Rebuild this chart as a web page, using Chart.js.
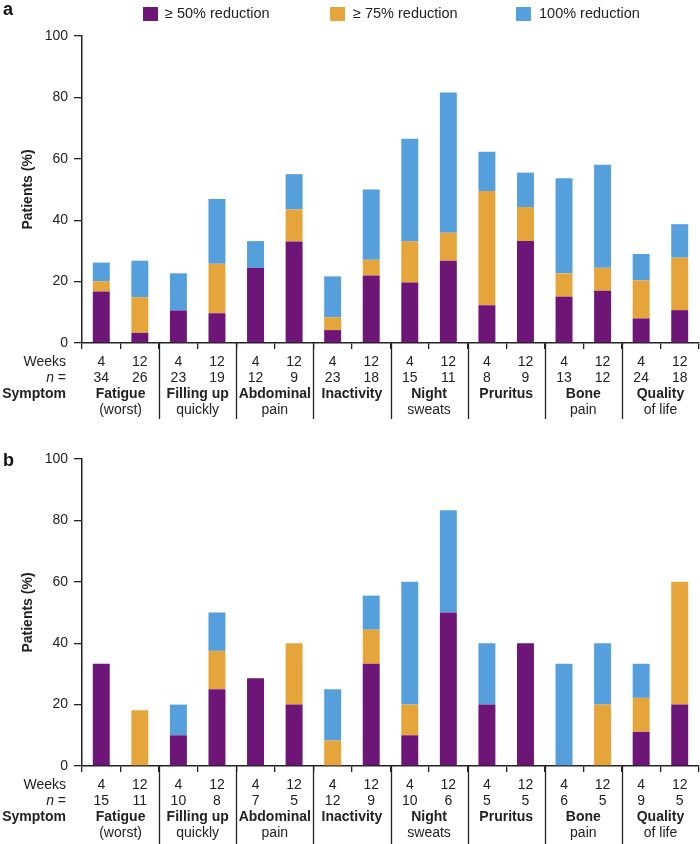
<!DOCTYPE html>
<html>
<head>
<meta charset="utf-8">
<script src="https://cdn.jsdelivr.net/npm/chart.js@4"></script>
<style>
  body { margin: 0; background: #fff; font-family: "Liberation Sans", Arial, sans-serif; }
  #page { position: relative; width: 700px; height: 844px; }
  .box { position: absolute; left: 0; width: 700px; height: 422px; }
  .panel { position: absolute; left: 3px; font-weight: bold; font-size: 18px; color: #111; }
  .sw { position: absolute; top: 7px; width: 15px; height: 14px; }
  .lt { position: absolute; top: 5px; font-size: 14.5px; color: #222; white-space: nowrap; }
</style>
</head>
<body>
<div id="page">
  <div class="box" style="top:0"><canvas id="chartA" width="700" height="422"></canvas></div>
  <div class="box" style="top:422px"><canvas id="chartB" width="700" height="422"></canvas></div>
  <div class="panel" style="top:-1px">a</div>
  <div class="panel" style="top:450px">b</div>
  <div class="sw" style="left:143px;background:#6e1678"></div><div class="lt" style="left:165px">≥ 50% reduction</div>
  <div class="sw" style="left:330px;background:#e5a53b"></div><div class="lt" style="left:353px">≥ 75% reduction</div>
  <div class="sw" style="left:516px;background:#559fdc"></div><div class="lt" style="left:539px">100% reduction</div>
</div>
<script>
// Shared labels
const weeks = ['4', '12', '4', '12', '4', '12', '4', '12', '4', '12', '4', '12', '4', '12', '4', '12'];
const symptoms = [
  ['Fatigue', '(worst)'], ['Filling up', 'quickly'], ['Abdominal', 'pain'], ['Inactivity'],
  ['Night', 'sweats'], ['Pruritus'], ['Bone', 'pain'], ['Quality', 'of life']
];
const seriesNames = ['≥ 50% reduction', '≥ 75% reduction', '100% reduction'];
const colors = ['#6e1678', '#e5a53b', '#559fdc'];

// Panel a (stacked increments, %)
const nA = ['34', '26', '23', '19', '12', '9', '23', '18', '15', '11', '8', '9', '13', '12', '24', '18'];
const a50 = [16.8, 3.3, 10.6, 9.7, 24.4, 33.1, 4.2, 22.0, 19.7, 26.8, 12.3, 33.2, 15.1, 17.0, 8.0, 10.7];
const a75 = [3.3, 11.6, 0, 16.1, 0, 10.4, 4.2, 5.1, 13.4, 9.1, 37.2, 11.1, 7.6, 7.5, 12.4, 17.1];
const a100 = [6.1, 11.9, 12.1, 21.1, 8.8, 11.5, 13.3, 22.9, 33.4, 45.7, 12.8, 11.2, 31.0, 33.6, 8.6, 10.9];

// Panel b (stacked increments, %)
const nB = ['15', '11', '10', '8', '7', '5', '12', '9', '10', '6', '5', '5', '6', '5', '9', '5'];
const b50 = [33.3, 0, 10, 25, 28.6, 20, 0, 33.3, 10, 50, 20, 40, 0, 0, 11.1, 20];
const b75 = [0, 18.2, 0, 12.5, 0, 20, 8.3, 11.1, 10, 0, 0, 0, 0, 20, 11.1, 40];
const b100 = [0, 0, 10, 12.5, 0, 0, 16.7, 11.1, 40, 33.3, 20, 0, 33.3, 20, 11.1, 0];

const FONT = '"Liberation Sans", Arial, sans-serif';
const INK = '#222';

// draws the Weeks / n = / Symptom table under the x axis
const tablePlugin = {
  id: 'tableRows',
  afterDraw(chart, args, opts) {
    const ctx = chart.ctx;
    const x = chart.scales.x;
    const base = chart.chartArea.bottom;
    const rowY = [base + 19, base + 35, base + 51, base + 67];
    ctx.save();
    ctx.fillStyle = INK;
    ctx.textBaseline = 'middle';

    // row headers
    ctx.textAlign = 'right';
    ctx.font = '14px ' + FONT;
    ctx.fillText('Weeks', 66, rowY[0]);
    ctx.fillText('=', 66, rowY[1]);
    const eqW = ctx.measureText(' =').width;
    ctx.font = 'italic 14px ' + FONT;
    ctx.fillText('n', 66 - eqW, rowY[1]);
    ctx.font = 'bold 14px ' + FONT;
    ctx.fillText('Symptom', 66, rowY[2]);

    // weeks and n
    ctx.textAlign = 'center';
    ctx.font = '14px ' + FONT;
    weeks.forEach((w, i) => {
      const px = x.getPixelForValue(i);
      ctx.fillText(w, px, rowY[0]);
      ctx.fillText(opts.n[i], px, rowY[1]);
    });

    // symptom names, centred on each pair
    symptoms.forEach((lines, k) => {
      const px = (x.getPixelForValue(2 * k) + x.getPixelForValue(2 * k + 1)) / 2;
      lines.forEach((t, j) => {
        ctx.font = (j === 0 ? 'bold ' : '') + '14px ' + FONT;
        ctx.fillText(t, px, rowY[2 + j]);
      });
    });

    // separators between symptoms
    ctx.strokeStyle = INK;
    ctx.lineWidth = 1.3;
    for (let k = 1; k < symptoms.length; k++) {
      const px = Math.round((x.getPixelForValue(2 * k - 1) + x.getPixelForValue(2 * k)) / 2) + 0.5;
      ctx.beginPath();
      ctx.moveTo(px, base);
      ctx.lineTo(px, base + opts.sepLen);
      ctx.stroke();
    }
    ctx.restore();
  }
};

function makeChart(id, s50, s75, s100, n, topPad, xHeight, sepLen) {
  const ctx = document.getElementById(id).getContext('2d');
  return new Chart(ctx, {
    type: 'bar',
    data: {
      labels: weeks,
      datasets: [s50, s75, s100].map((d, i) => ({
        label: seriesNames[i],
        data: d,
        backgroundColor: colors[i],
        borderWidth: 0,
        barPercentage: 0.44,
        categoryPercentage: 1
      }))
    },
    plugins: [tablePlugin],
    options: {
      responsive: false,
      animation: false,
      layout: { padding: { top: topPad, right: 1, bottom: 0, left: 0 } },
      plugins: {
        legend: { display: false },
        tooltip: { enabled: false },
        tableRows: { n: n, sepLen: sepLen }
      },
      scales: {
        x: {
          stacked: true,
          grid: { drawOnChartArea: false, tickLength: 6, color: INK, lineWidth: 1.3, offset: true },
          border: { color: INK, width: 1.5 },
          ticks: { display: false },
          afterFit: (scale) => { scale.height = xHeight; }
        },
        y: {
          stacked: true,
          min: 0,
          max: 100,
          ticks: { stepSize: 20, color: INK, font: { family: FONT, size: 14 }, padding: 6 },
          grid: { drawOnChartArea: false, tickLength: 8, color: INK, lineWidth: 1.3 },
          border: { color: INK, width: 1.5 },
          title: {
            display: true,
            text: 'Patients (%)',
            color: INK,
            font: { family: FONT, size: 14, weight: 'bold' },
            padding: { top: 20, bottom: 0 }
          },
          afterFit: (scale) => { scale.width = 82; }
        }
      }
    }
  });
}

makeChart('chartA', a50, a75, a100, nA, 36, 79, 76);
makeChart('chartB', b50, b75, b100, nB, 37, 78, 78);
</script>
</body>
</html>
